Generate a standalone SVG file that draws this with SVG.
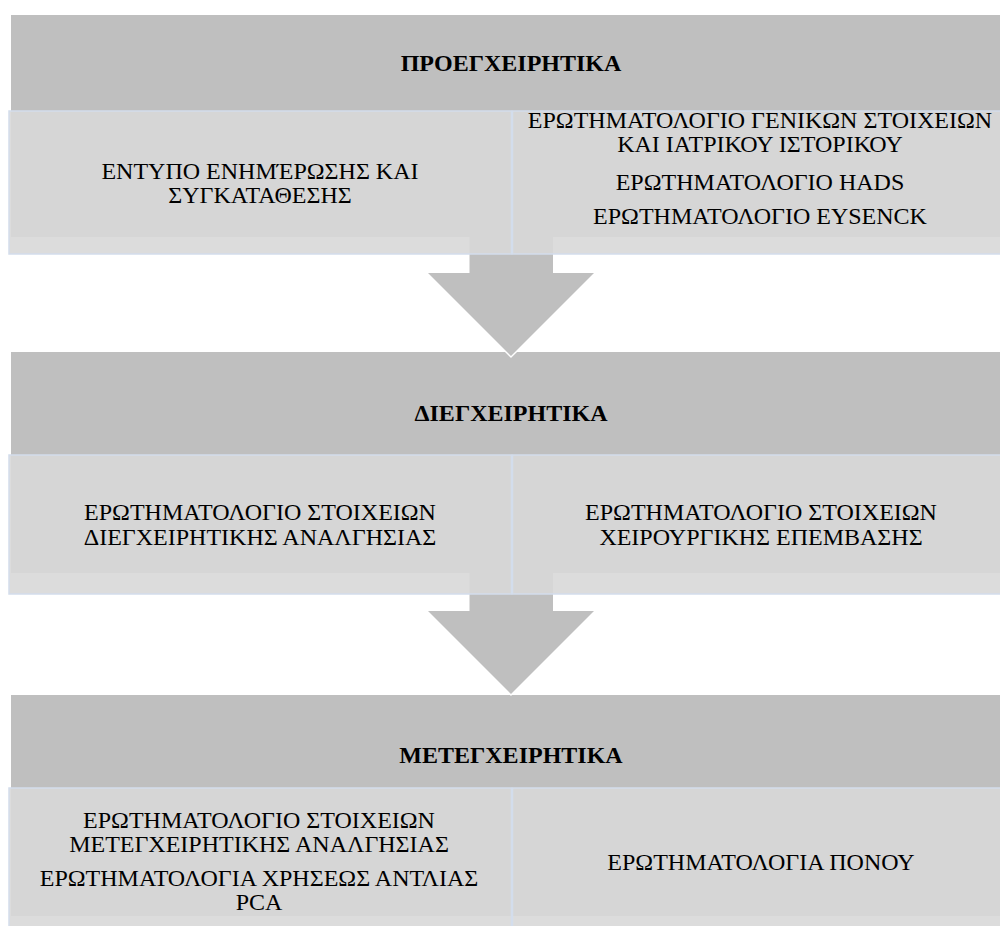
<svg xmlns="http://www.w3.org/2000/svg" width="1000" height="926" viewBox="0 0 1000 926">
<style>
.hdr{fill:#BFBFBF}
.box{fill:#D8D8D8;fill-opacity:0.9;stroke:#D3DDEC;stroke-width:1.5}
.arrow{fill:#BFBFBF}
.halo{fill:none;stroke:#FFFFFF;stroke-width:3}
.t{font-family:'Liberation Serif','Times New Roman','DejaVu Serif',serif;font-size:24px;fill:#000;text-anchor:middle}
.h{font-weight:bold}
</style>
<rect width="1000" height="926" fill="#FFFFFF"/>
<g id="header-pre"><rect class="hdr" x="11" y="15" width="995" height="222"/></g>
<g id="header-intra"><rect class="hdr" x="11" y="352" width="995" height="221"/></g>
<g id="header-post"><rect class="hdr" x="11" y="695" width="995" height="221"/></g>
<g id="connectors">
<polyline class="halo" points="428,273 511,356 594,273"/>
<polygon class="arrow" points="469.5,200 553,200 553,273 594,273 511,356 428,273 469.5,273"/>
<polyline class="halo" points="428,611 511,694 594,611"/>
<polygon class="arrow" points="469.5,540 553,540 553,611 594,611 511,694 428,611 469.5,611"/>
</g>
<g id="pre-consent"><rect class="box" x="9" y="111" width="502.5" height="143"/>
<text class="t" x="260" y="179">ΕΝΤΥΠΟ ΕΝΗΜΈΡΩΣΗΣ ΚΑΙ</text>
<text class="t" x="260" y="203">ΣΥΓΚΑΤΑΘΕΣΗΣ</text></g>
<g id="pre-questionnaires"><rect class="box" x="512.5" y="111" width="500" height="143"/>
<text class="t" x="760" y="128">ΕΡΩΤΗΜΑΤΟΛΟΓΙΟ ΓΕΝΙΚΩΝ ΣΤΟΙΧΕΙΩΝ</text>
<text class="t" x="760" y="152">ΚΑΙ ΙΑΤΡΙΚΟΥ ΙΣΤΟΡΙΚΟΥ</text>
<text class="t" x="760" y="190">ΕΡΩΤΗΜΑΤΟΛΟΓΙΟ HADS</text>
<text class="t" x="760" y="224">ΕΡΩΤΗΜΑΤΟΛΟΓΙΟ EYSENCK</text></g>
<g id="header-pre-label"><text class="t h" x="511" y="71">ΠΡΟΕΓΧΕΙΡΗΤΙΚΑ</text></g>
<g id="intra-analgesia"><rect class="box" x="9" y="455" width="502.5" height="139"/>
<text class="t" x="260" y="520">ΕΡΩΤΗΜΑΤΟΛΟΓΙΟ  ΣΤΟΙΧΕΙΩΝ</text>
<text class="t" x="260" y="545">ΔΙΕΓΧΕΙΡΗΤΙΚΗΣ ΑΝΑΛΓΗΣΙΑΣ</text></g>
<g id="intra-surgery"><rect class="box" x="512.5" y="455" width="500" height="139"/>
<text class="t" x="761" y="520">ΕΡΩΤΗΜΑΤΟΛΟΓΙΟ ΣΤΟΙΧΕΙΩΝ</text>
<text class="t" x="761" y="545">ΧΕΙΡΟΥΡΓΙΚΗΣ ΕΠΕΜΒΑΣΗΣ</text></g>
<g id="header-intra-label"><text class="t h" x="511" y="421">ΔΙΕΓΧΕΙΡΗΤΙΚΑ</text></g>
<g id="post-analgesia"><rect class="box" x="9" y="788" width="502.5" height="150"/>
<text class="t" x="259" y="828">ΕΡΩΤΗΜΑΤΟΛΟΓΙΟ ΣΤΟΙΧΕΙΩΝ</text>
<text class="t" x="259" y="852">ΜΕΤΕΓΧΕΙΡΗΤΙΚΗΣ ΑΝΑΛΓΗΣΙΑΣ</text>
<text class="t" x="259" y="886">ΕΡΩΤΗΜΑΤΟΛΟΓΙΑ ΧΡΗΣΕΩΣ ΑΝΤΛΙΑΣ</text>
<text class="t" x="259" y="910">PCA</text></g>
<g id="post-pain"><rect class="box" x="512.5" y="788" width="500" height="150"/>
<text class="t" x="761" y="870">ΕΡΩΤΗΜΑΤΟΛΟΓΙΑ ΠΟΝΟΥ</text></g>
<g id="header-post-label"><text class="t h" x="511" y="763">ΜΕΤΕΓΧΕΙΡΗΤΙΚΑ</text></g>
</svg>
